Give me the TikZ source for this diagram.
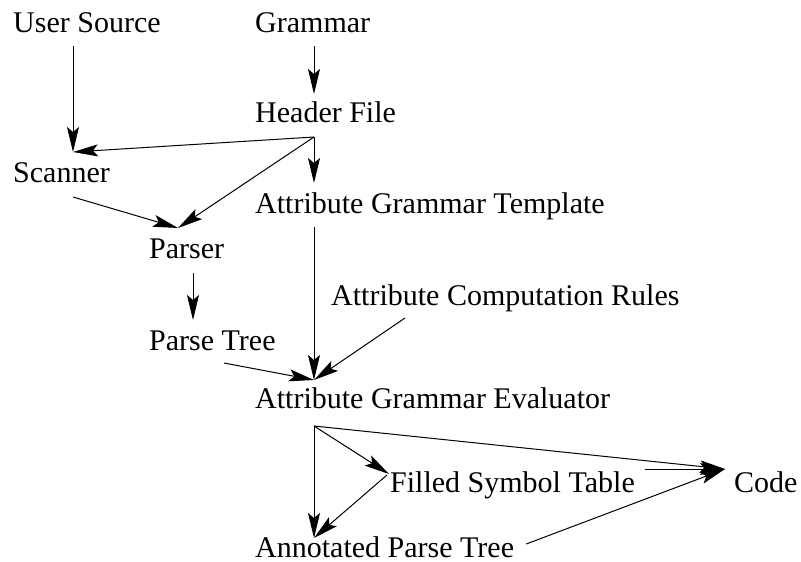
\documentclass[tikz,border=0pt]{standalone}
\usepackage{fontspec}
\setmainfont{Liberation Serif}
\usetikzlibrary{arrows.meta, positioning, calc}

\begin{document}
\begin{tikzpicture}[
    x=1pt, y=-1pt,
    >={Stealth[length=25pt, width=12pt, inset=5pt]},
    lbl/.style={inner sep=0pt, anchor=base west, font=\fontsize{30}{34}\selectfont},
    arrow/.style={->, line width=1pt}
]
\useasboundingbox (0,0) rectangle (801,562);

% Sources
\node[lbl] (usrc) at (13,32) {User Source};
\node[lbl] (grammar) at (255,32) {Grammar};

% Front end
\node[lbl, below=90pt of grammar.base west, anchor=base west] (header) {Header File};
\node[lbl, below=150pt of usrc.base west, anchor=base west] (scanner) {Scanner};
\node[lbl, below=91pt of header.base west, anchor=base west] (agt) {Attribute Grammar Template};
\node[lbl] (parser) at (149,258) {Parser};
\node[lbl, below=92pt of parser.base west, anchor=base west] (ptree) {Parse Tree};
\node[lbl] (acr) at (331,305) {Attribute Computation Rules};

% Evaluation
\node[lbl, below=195pt of agt.base west, anchor=base west] (eval) {Attribute Grammar Evaluator};
\node[lbl] (filled) at (390,492) {Filled Symbol Table};
\node[lbl] (code) at (734,492) {Code};
\node[lbl, below=149pt of eval.base west, anchor=base west] (annot) {Annotated Parse Tree};

\draw[arrow] ([shift={(60,14)}]usrc.base west) -- ([shift={(60,-30)}]scanner.base west);
\draw[arrow] ([shift={(59,14)}]grammar.base west) -- ([shift={(59,-28)}]header.base west);

\draw[arrow] ([shift={(59,15)}]header.base west) -- ([shift={(60,-30)}]scanner.base west);
\draw[arrow] ([shift={(59,15)}]header.base west) -- ([shift={(59,-30)}]agt.base west);
\draw[arrow] ([shift={(59,15)}]header.base west) -- ([shift={(29,-30)}]parser.base west);
\draw[arrow] ([shift={(60,15)}]scanner.base west) -- ([shift={(29,-30)}]parser.base west);

\draw[arrow] ([shift={(44,15)}]parser.base west) -- ([shift={(44,-30)}]ptree.base west);
\draw[arrow] ([shift={(59,14)}]agt.base west) -- ([shift={(59,-28)}]eval.base west);
\draw[arrow] ([shift={(74,13)}]acr.base west) -- ([shift={(59,-28)}]eval.base west);
\draw[arrow] ([shift={(75,13)}]ptree.base west) -- ([shift={(59,-28)}]eval.base west);

\draw[arrow] ([shift={(59,18)}]eval.base west) -- ([shift={(59,-19)}]annot.base west);
\draw[arrow] ([shift={(59,18)}]eval.base west) -- ([shift={(-1,-18)}]filled.base west);
\draw[arrow] ([shift={(59,18)}]eval.base west) -- ([shift={(-9,-23)}]code.base west);
\draw[arrow] ([shift={(-3,-17)}]filled.base west) -- ([shift={(59,-19)}]annot.base west);
\draw[arrow] ([shift={(10,-23)}]filled.base east) -- ([shift={(-9,-23)}]code.base west);
\draw[arrow] ([shift={(12,-13)}]annot.base east) -- ([shift={(-9,-23)}]code.base west);

\end{tikzpicture}
\end{document}
